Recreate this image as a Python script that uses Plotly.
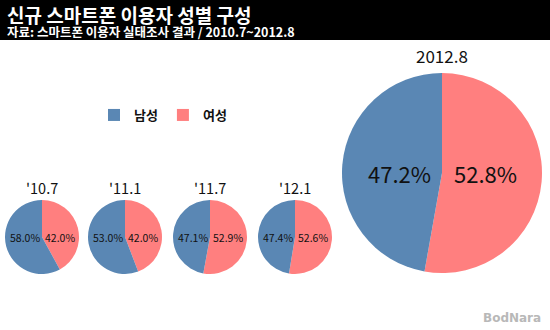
import plotly.graph_objects as go

# Survey periods and male/female shares (%)
periods = ["'10.7", "'11.1", "'11.7", "'12.1", "2012.8"]
male = [58.0, 53.0, 47.1, 47.4, 47.2]
female = [42.0, 42.0, 52.9, 52.6, 52.8]
genders = ["남성", "여성"]
colors = {"남성": "#5A87B4", "여성": "#FF7F7F"}

W, H = 550, 330
FONT = "Noto Sans CJK KR, Malgun Gothic, sans-serif"

# pie placement in pixels: (center x, center y, radius)
small_geo = [(42, 237, 37), (125, 237, 37), (210, 237, 37), (295, 237, 37)]
big_geo = (442, 173, 100)
geo = small_geo + [big_geo]

fig = go.Figure()
annotations = []

for i, (p, m, f) in enumerate(zip(periods, male, female)):
    cx, cy, r = geo[i]
    big = i == len(periods) - 1
    fig.add_trace(go.Pie(
        labels=["여성", "남성"],
        values=[f, m],
        sort=False,
        direction="clockwise",
        rotation=0,
        marker=dict(colors=[colors["여성"], colors["남성"]], line=dict(width=0)),
        textinfo="none",
        hoverinfo="label+value",
        showlegend=(i == 0),
        domain=dict(x=[(cx - r) / W, (cx + r) / W],
                    y=[1 - (cy + r) / H, 1 - (cy - r) / H]),
    ))
    # period title above each pie
    annotations.append(dict(
        x=cx / W, y=1 - (cy - r - (17 if big else 13)) / H,
        xref="paper", yref="paper", xanchor="center", yanchor="middle",
        text=p, showarrow=False,
        font=dict(family=FONT, size=17 if big else 14.5, color="#111"),
    ))
    # percentage labels
    off = 43 if big else 17.5
    fs = 22 if big else 10.5
    for val, dx in ((m, -off), (f, off)):
        annotations.append(dict(
            x=(cx + dx) / W, y=1 - cy / H, xref="paper", yref="paper",
            xanchor="center", yanchor="middle",
            text=f"{val:.1f}%", showarrow=False,
            font=dict(family=FONT, size=fs, color="#111"),
        ))

# header: title and source line
annotations.append(dict(
    x=5 / W, y=1 - 14 / H, xref="paper", yref="paper",
    xanchor="left", yanchor="middle", align="left",
    text="<b>신규 스마트폰 이용자 성별 구성</b>",
    showarrow=False,
    font=dict(family=FONT, size=19, color="white"),
))
annotations.append(dict(
    x=5 / W, y=1 - 32 / H, xref="paper", yref="paper",
    xanchor="left", yanchor="middle", align="left",
    text="<b>자료: 스마트폰 이용자 실태조사 결과 / 2010.7~2012.8</b>",
    showarrow=False,
    font=dict(family=FONT, size=12.5, color="white"),
))
# watermark
annotations.append(dict(
    x=543 / W, y=1 - 318 / H, xref="paper", yref="paper",
    xanchor="right", yanchor="middle",
    text="<b>BodNara</b>", showarrow=False,
    font=dict(family="DejaVu Sans", size=12, color="#b8b8b8"),
))

fig.update_layout(
    width=W, height=H,
    margin=dict(l=0, r=0, t=0, b=0),
    paper_bgcolor="white", plot_bgcolor="white",
    font=dict(family=FONT),
    shapes=[dict(type="rect", xref="paper", yref="paper",
                 x0=0, x1=1, y0=1 - 40 / H, y1=1,
                 fillcolor="black", line=dict(width=0), layer="below")],
    annotations=annotations,
    legend=dict(orientation="h", x=94 / W, y=1 - 100 / H,
                xanchor="left", yanchor="top",
                traceorder="reversed",
                font=dict(family=FONT, size=13, color="#111", weight="bold"),
                itemwidth=30, bgcolor="rgba(0,0,0,0)"),
)

fig.write_html("out.html")
